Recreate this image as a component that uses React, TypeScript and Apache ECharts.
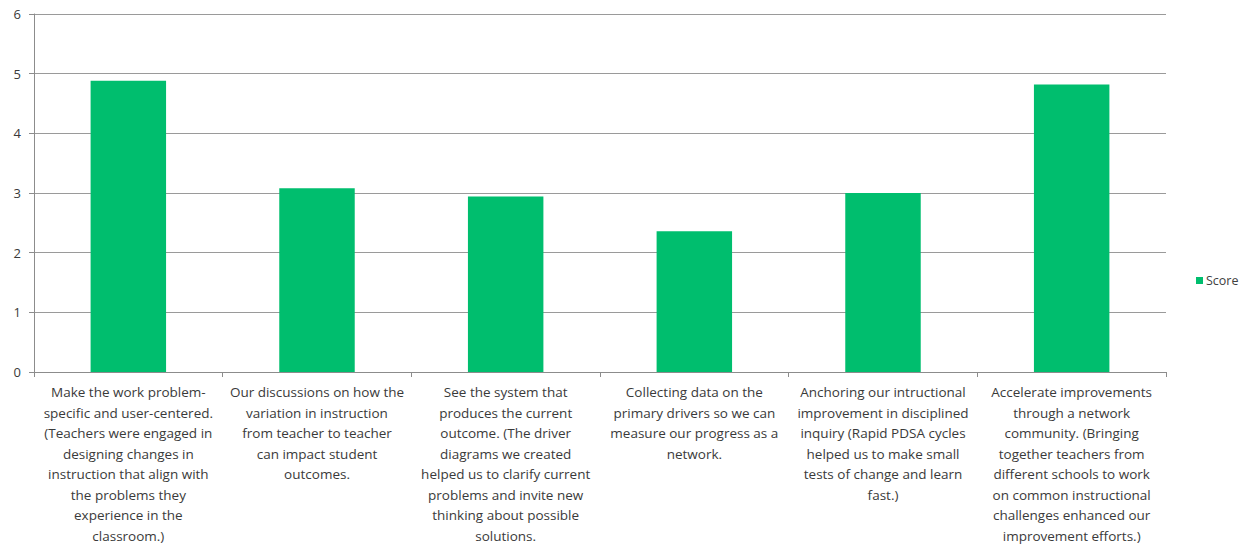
import React, { useEffect, useRef } from "react";
import * as echarts from "echarts";

const categories: string[] = [
  "Make the work problem-\nspecific and user-centered.\n(Teachers were engaged in\ndesigning changes in\ninstruction that align with\nthe problems they\nexperience in the\nclassroom.)",
  "Our discussions on how the\nvariation in instruction\nfrom teacher to teacher\ncan impact student\noutcomes.",
  "See the system that\nproduces the current\noutcome. (The driver\ndiagrams we created\nhelped us to clarify current\nproblems and invite new\nthinking about possible\nsolutions.",
  "Collecting data on the\nprimary drivers so we can\nmeasure our progress as a\nnetwork.",
  "Anchoring our intructional\nimprovement in disciplined\ninquiry (Rapid PDSA cycles\nhelped us to make small\ntests of change and learn\nfast.)",
  "Accelerate improvements\nthrough a network\ncommunity. (Bringing\ntogether teachers from\ndifferent schools to work\non common instructional\nchallenges enhanced our\nimprovement efforts.)",
];

const scoreValues: number[] = [4.88, 3.08, 2.94, 2.36, 3.0, 4.82];
const seriesName = "Score";

export default function App() {
  const ref = useRef<HTMLDivElement>(null);
  useEffect(() => {
    document.body.style.margin = "0";
    if (!ref.current) return;
    const chart = echarts.init(ref.current, undefined, { renderer: "svg" });
    const font = "'Open Sans', 'Liberation Sans', sans-serif";
    chart.setOption({
      animation: false,
      backgroundColor: "#ffffff",
      textStyle: { fontFamily: font },
      legend: {
        data: [seriesName],
        orient: "vertical",
        left: 1191,
        top: 269,
        itemWidth: 7,
        itemHeight: 7,
        itemGap: 4,
        icon: "rect",
        textStyle: { color: "#404040", fontSize: 12.5, fontFamily: font, padding: [0, 0, 0, -2] },
      },
      grid: { left: 34, top: 14, right: 83, bottom: 174, containLabel: false },
      xAxis: {
        type: "category",
        data: categories,
        axisLine: { show: true, lineStyle: { color: "#8c8c8c", width: 1 } },
        axisTick: { show: true, alignWithLabel: false, length: 5, lineStyle: { color: "#8c8c8c" } },
        axisLabel: {
          interval: 0,
          color: "#3a3a3a",
          fontSize: 13.5,
          lineHeight: 20.5,
          margin: 10,
          align: "center",
          fontFamily: font,
        },
      },
      yAxis: {
        type: "value",
        min: 0,
        max: 6,
        interval: 1,
        axisLine: { show: true, lineStyle: { color: "#8c8c8c", width: 1 } },
        axisTick: { show: true, length: 5, lineStyle: { color: "#8c8c8c" } },
        axisLabel: { color: "#3a3a3a", fontSize: 13, margin: 13, fontFamily: font },
        splitLine: { show: true, lineStyle: { color: "#9a9a9a", width: 1 } },
      },
      series: [
        {
          name: seriesName,
          type: "bar",
          data: scoreValues,
          barWidth: "40%",
          itemStyle: { color: "#00be6e" },
        },
      ],
    });
    return () => chart.dispose();
  }, []);
  return <div ref={ref} style={{ width: 1249, height: 546 }} />;
}
